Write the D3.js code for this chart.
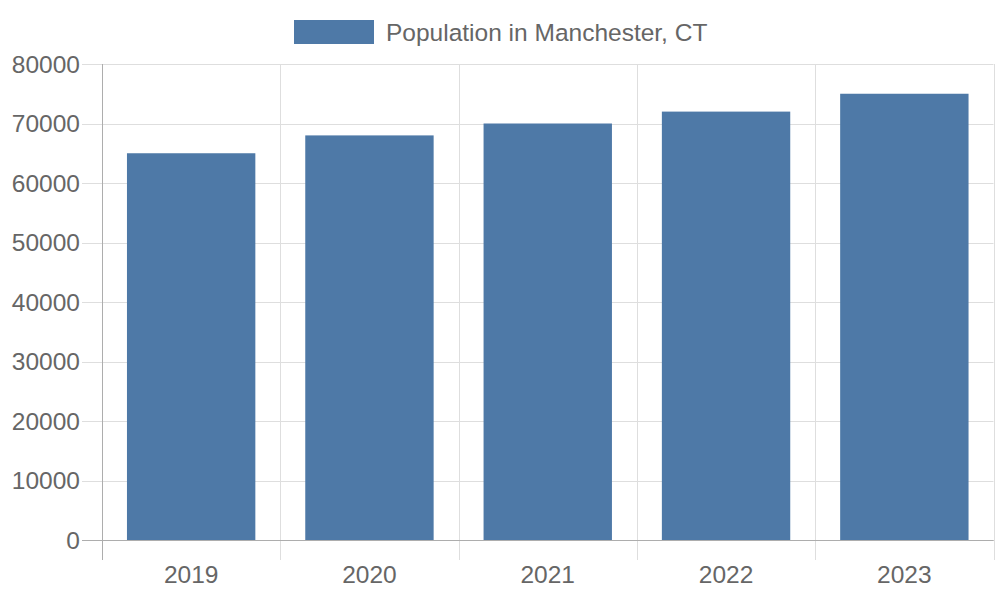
<!DOCTYPE html>
<html><head><meta charset="utf-8">
<script src="https://cdn.jsdelivr.net/npm/d3@7"></script>
<style>html,body{margin:0;padding:0;background:#fff}svg{display:block}</style>
</head><body>
<svg id="c" width="1000" height="600"></svg>
<script>
const categories = ["2019", "2020", "2021", "2022", "2023"];
const population = [65000, 68000, 70000, 72000, 75000];
const yTicks = [0, 10000, 20000, 30000, 40000, 50000, 60000, 70000, 80000];
const seriesName = "Population in Manchester, CT";

(function () {
const svg = d3.select("#c");
const font = "'Liberation Sans', Arial, Helvetica, sans-serif";
const fs = 24.5;
const pLeft = 102, pRight = 993.5, pTop = 64, pBottom = 540;
const barColor = "#4e79a7", gridColor = "#dedede", axisColor = "#adadad", textColor = "#666";

const x = d3.scaleBand().domain(categories).range([pLeft, pRight]).paddingInner(0).paddingOuter(0);
const y = d3.scaleLinear().domain([0, 80000]).range([pBottom, pTop]);

svg.append("g").selectAll("line").data(yTicks).join("line")
  .attr("x1", 82).attr("x2", pRight)
  .attr("y1", d => Math.round(y(d)) + 0.5).attr("y2", d => Math.round(y(d)) + 0.5)
  .attr("stroke", d => d === 0 ? axisColor : gridColor).attr("stroke-width", 1);

const bounds = categories.map(c => x(c)).concat([pRight]);
svg.append("g").selectAll("line").data(bounds).join("line")
  .attr("x1", d => Math.round(d) + 0.5).attr("x2", d => Math.round(d) + 0.5)
  .attr("y1", pTop).attr("y2", 560)
  .attr("stroke", (d, i) => i === 0 ? axisColor : gridColor).attr("stroke-width", 1);

const bw = x.bandwidth() * 0.72;
svg.append("g").selectAll("rect").data(population).join("rect")
  .attr("x", (d, i) => x(categories[i]) + (x.bandwidth() - bw) / 2)
  .attr("width", bw)
  .attr("y", d => y(d))
  .attr("height", d => pBottom - y(d))
  .attr("fill", barColor);

svg.append("line").attr("x1", 82).attr("x2", pRight).attr("y1", pBottom + 0.5).attr("y2", pBottom + 0.5).attr("stroke", axisColor);
svg.append("line").attr("x1", pLeft + 0.5).attr("x2", pLeft + 0.5).attr("y1", pTop).attr("y2", 560).attr("stroke", axisColor);

svg.append("g").selectAll("text").data(yTicks).join("text")
  .attr("x", 80).attr("y", d => y(d)).attr("dy", "0.35em")
  .attr("text-anchor", "end").attr("font-family", font).attr("font-size", fs)
  .attr("fill", textColor).text(d => d);

svg.append("g").selectAll("text").data(categories).join("text")
  .attr("x", d => x(d) + x.bandwidth() / 2).attr("y", 574).attr("dy", "0.35em")
  .attr("text-anchor", "middle").attr("font-family", font).attr("font-size", fs)
  .attr("fill", textColor).text(d => d);

svg.append("rect").attr("x", 294).attr("y", 20).attr("width", 80).attr("height", 24).attr("fill", barColor);
svg.append("text").attr("x", 386).attr("y", 32).attr("dy", "0.35em")
  .attr("font-family", font).attr("font-size", fs).attr("fill", textColor).text(seriesName);
})();
</script>
</body></html>
